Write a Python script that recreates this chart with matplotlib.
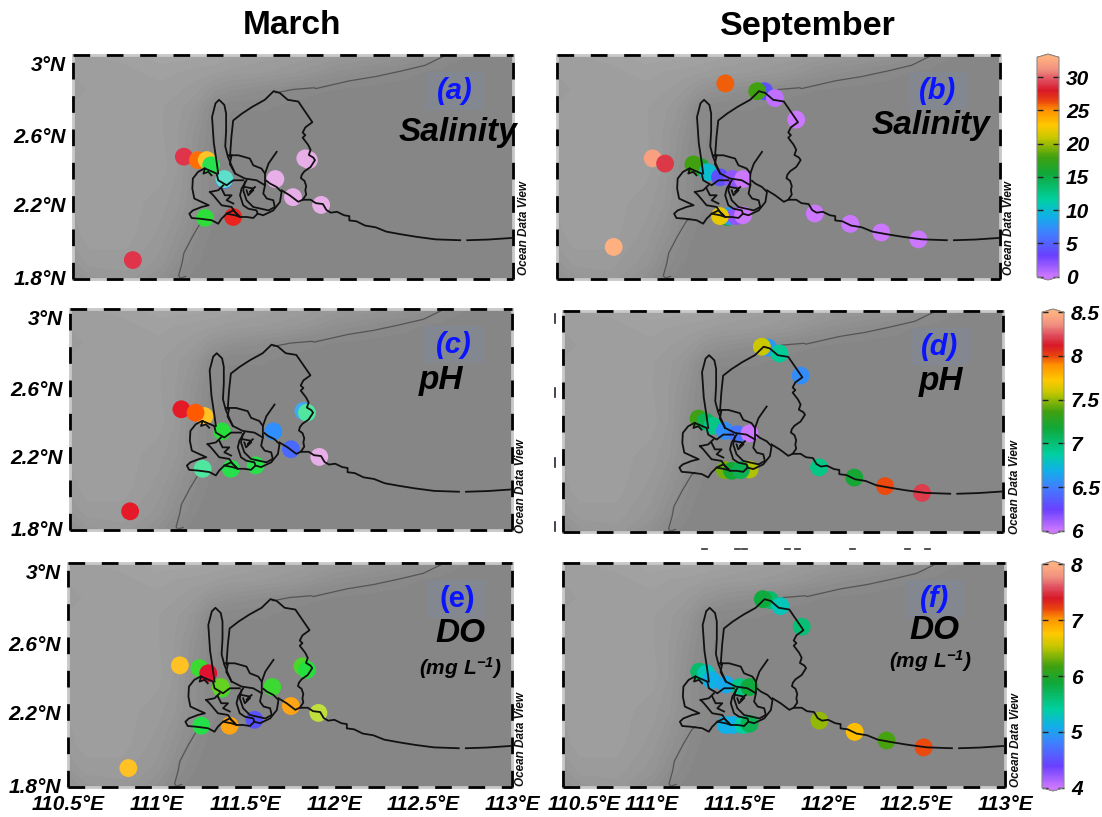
import matplotlib
matplotlib.use("Agg")
import matplotlib.pyplot as plt
import numpy as np
from matplotlib.cm import ScalarMappable
from matplotlib.colors import LinearSegmentedColormap, Normalize
from matplotlib.lines import Line2D

plt.rcParams['font.family'] = ['Liberation Sans', 'DejaVu Sans']
plt.rcParams['mathtext.default'] = 'regular'

W, H = 1102, 817

# stations (lon, lat, value)
lon_a = [111.36, 111.13, 111.21, 111.26, 111.285, 111.36, 111.65, 111.82, 111.84, 111.75, 111.91, 111.25, 111.41, 110.84]
lat_a = [2.325, 2.46, 2.44, 2.44, 2.41, 2.33, 2.33, 2.45, 2.44, 2.225, 2.18, 2.105, 2.11, 1.86]
sal_a = [5, 29, 26, 23, 15, 11, 0, 0, 0, 0, 0, 16, 27.5, 29]

lon_b = [111.45, 111.67, 111.63, 111.73, 111.85, 111.04, 111.11, 111.31, 111.27, 111.35, 111.42, 111.49, 111.55,
         111.46, 111.47, 111.51, 111.55, 111.42, 111.955, 112.155, 112.33, 112.54, 110.82]
lat_b = [2.885, 2.84, 2.84, 2.80, 2.675, 2.45, 2.42, 2.40, 2.415, 2.37, 2.34, 2.33, 2.33,
         2.11, 2.115, 2.115, 2.12, 2.115, 2.13, 2.07, 2.02, 1.98, 1.936]
sal_b = [26, 4, 18, 0.5, 0, 32, 29, 16, 18, 10, 4, 2, 0, 16, 8, 2, 0, 22, 0, 0, 0, 0, 33]

lon_c = [111.13, 111.26, 111.21, 111.36, 111.65, 111.82, 111.84, 111.75, 111.91, 111.25, 111.41, 111.55, 110.84]
lat_c = [2.46, 2.42, 2.44, 2.33, 2.33, 2.45, 2.44, 2.225, 2.18, 2.11, 2.11, 2.13, 1.86]
ph_c = [8.1, 7.75, 8.0, 7.2, 6.5, 6.6, 6.95, 6.35, 6.0, 6.95, 7.15, 7.15, 8.1]

lon_d = [111.665, 111.63, 111.73, 111.85, 111.27, 111.31, 111.35, 111.42, 111.49, 111.56,
         111.56, 111.42, 111.46, 111.51, 111.955, 112.155, 112.33, 112.54]
lat_d = [2.835, 2.84, 2.80, 2.67, 2.417, 2.40, 2.375, 2.345, 2.325, 2.33,
         2.118, 2.114, 2.11, 2.114, 2.13, 2.07, 2.02, 1.98]
ph_d = [6.6, 7.6, 6.9, 6.55, 7.35, 7.1, 6.95, 6.55, 6.45, 6.0, 7.55, 7.45, 7.2, 7.1, 6.95, 7.2, 8.0, 8.2]

lon_e = [111.13, 111.24, 111.29, 111.365, 111.36, 111.65, 111.82, 111.845, 111.755, 111.91, 111.25, 111.41, 111.55, 110.84]
lat_e = [2.456, 2.44, 2.41, 2.32, 2.33, 2.33, 2.45, 2.43, 2.22, 2.18, 2.106, 2.106, 2.14, 1.86]
do_e = [6.8, 6.0, 7.4, 6.0, 6.2, 6.0, 6.1, 5.9, 7.0, 6.5, 5.85, 7.0, 4.4, 6.8]

lon_f = [111.67, 111.63, 111.73, 111.85, 111.27, 111.31, 111.34, 111.42, 111.50, 111.555,
         111.42, 111.46, 111.52, 111.555, 111.95, 112.15, 112.33, 112.54]
lat_f = [2.835, 2.84, 2.80, 2.68, 2.42, 2.41, 2.37, 2.345, 2.33, 2.33,
         2.11, 2.11, 2.11, 2.117, 2.135, 2.07, 2.02, 1.98]
do_f = [5.65, 5.85, 5.3, 5.6, 5.65, 5.3, 5.1, 5.05, 5.5, 5.85, 5.1, 5.1, 5.4, 5.75, 6.4, 6.8, 6.2, 7.2]

# coast and rivers, black lines
coast_lines = [
    # island
    ([111.325, 111.316, 111.30, 111.29, 111.31, 111.33, 111.36, 111.37, 111.37, 111.365, 111.38, 111.40, 111.421],
     [2.362, 2.43, 2.54, 2.69, 2.77, 2.79, 2.76, 2.71, 2.61, 2.52, 2.46, 2.41, 2.362]),
    # north arc and the long coast to the east
    ([111.392, 111.40, 111.41, 111.46, 111.52, 111.59, 111.64, 111.675, 111.72, 111.78, 111.80, 111.82, 111.86,
      111.82, 111.805, 111.82, 111.805, 111.82, 111.835, 111.85, 111.84, 111.865, 111.875, 111.85, 111.815, 111.80,
      111.795, 111.815, 111.825, 111.82, 111.825, 111.805, 111.85, 111.88, 111.92, 111.94, 111.965, 112.0, 112.04,
      112.07, 112.07, 112.11, 112.16, 112.22, 112.28, 112.36, 112.45, 112.56, 112.70],
     [2.46, 2.575, 2.67, 2.71, 2.75, 2.79, 2.84, 2.83, 2.79, 2.78, 2.75, 2.72, 2.66,
      2.63, 2.60, 2.585, 2.57, 2.55, 2.53, 2.50, 2.47, 2.455, 2.44, 2.40, 2.375, 2.355,
      2.335, 2.32, 2.29, 2.265, 2.24, 2.21, 2.21, 2.19, 2.185, 2.15, 2.135, 2.14, 2.12,
      2.115, 2.09, 2.085, 2.06, 2.05, 2.025, 2.01, 1.995, 1.98, 1.975]),
    ([112.74, 112.86, 112.99], [1.975, 1.979, 1.988]),
    # delta outline
    ([111.246, 111.211, 111.181, 111.178, 111.189, 111.231, 111.271, 111.231, 111.181, 111.161, 111.174, 111.221, 111.288,
      111.325, 111.344, 111.373, 111.411, 111.449, 111.486, 111.524, 111.549, 111.543, 111.496, 111.467, 111.449, 111.458, 111.486],
     [2.391, 2.372, 2.333, 2.275, 2.217, 2.197, 2.178, 2.168, 2.148, 2.129, 2.104, 2.10, 2.091,
      2.071, 2.10, 2.129, 2.148, 2.11, 2.11, 2.104, 2.129, 2.148, 2.158, 2.178, 2.236, 2.275, 2.323]),
    # river up the middle
    ([111.401, 111.391, 111.421, 111.477, 111.543, 111.591, 111.591, 111.611, 111.657],
     [2.468, 2.418, 2.362, 2.333, 2.323, 2.294, 2.362, 2.42, 2.488]),
    ([111.382, 111.439, 111.505, 111.524, 111.571, 111.591], [2.468, 2.468, 2.449, 2.41, 2.391, 2.362]),
    # eastern loops
    ([111.591, 111.581, 111.601, 111.638, 111.647, 111.611, 111.524, 111.486, 111.467, 111.477],
     [2.294, 2.246, 2.217, 2.207, 2.168, 2.148, 2.168, 2.207, 2.265, 2.313]),
    ([111.60, 111.619, 111.657, 111.685, 111.676, 111.638, 111.581, 111.549],
     [2.32, 2.304, 2.284, 2.255, 2.197, 2.148, 2.12, 2.129]),
    ([111.685, 111.731, 111.78, 111.805], [2.265, 2.236, 2.198, 2.21]),
    # channels inside the delta
    ([111.25, 111.316, 111.325, 111.373, 111.411, 111.467], [2.391, 2.362, 2.323, 2.294, 2.323, 2.323]),
    ([111.278, 111.297, 111.344, 111.401, 111.42, 111.439], [2.255, 2.236, 2.178, 2.168, 2.139, 2.12]),
    ([111.278, 111.325, 111.354], [2.255, 2.265, 2.294]),
    ([111.344, 111.363, 111.401, 111.373, 111.411], [2.275, 2.236, 2.236, 2.207, 2.188]),
    ([111.477, 111.524, 111.505, 111.534], [2.284, 2.275, 2.255, 2.284]),
    ([111.486, 111.496, 111.524], [2.265, 2.236, 2.265]),
    ([111.25, 111.241, 111.269, 111.287], [2.391, 2.362, 2.372, 2.352]),
    ([111.373, 111.42, 111.449], [2.129, 2.12, 2.11]),
]

# thin grey coast, north and south of the delta
thin_lon_n = [111.65, 111.75, 111.87, 111.88, 112.07, 112.22, 112.36, 112.5, 112.62]
thin_lat_n = [2.83, 2.85, 2.86, 2.855, 2.90, 2.925, 2.956, 2.99, 3.05]
thin_lon_s = [111.25, 111.23, 111.18, 111.13, 111.12, 111.10, 111.11, 111.14]
thin_lat_s = [2.10, 2.085, 1.998, 1.90, 1.843, 1.77, 1.755, 1.765]

# bathymetry shading levels, read by eye (higher = lighter grey)
bath_lon = [110.5, 110.6, 110.8, 111.0, 111.1, 111.2, 111.3, 111.4, 111.6, 111.8, 112.0, 112.2, 112.4, 112.6, 112.8, 113.0]
bath_lat = [1.75, 1.85, 2.0, 2.2, 2.4, 2.6, 2.75, 2.85, 2.95, 3.05]
bath = [
    [1.5, 2.5, 3.0, 1.5, 0.5, 0, 0, 0, 0, 0, 0, 0, 0, 0, 0, 0],
    [2.5, 3.5, 3.5, 2.5, 1.2, 0.3, 0, 0, 0, 0, 0, 0, 0, 0, 0, 0],
    [3.5, 4.0, 4.0, 3.0, 2.0, 0.8, 0, 0, 0, 0, 0, 0, 0, 0, 0, 0],
    [3.8, 4.0, 4.0, 3.5, 2.8, 1.5, 0.5, 0, 0, 0, 0, 0, 0, 0, 0, 0],
    [4.0, 4.2, 4.2, 4.0, 3.2, 1.5, 0.3, 0, 0, 0, 0, 0, 0, 0, 0, 0],
    [4.2, 4.2, 4.2, 3.8, 3.2, 2.0, 0.5, 0, 0, 0, 0, 0, 0, 0, 0, 0],
    [3.8, 4.0, 4.0, 3.8, 3.4, 2.6, 0.8, 0.3, 0.3, 0, 0, 0, 0, 0, 0, 0],
    [3.5, 3.8, 4.0, 4.0, 3.8, 3.4, 2.4, 1.8, 1.2, 0.5, 0.2, 0, 0, 0, 0, 0],
    [3.8, 4.0, 4.0, 4.5, 4.2, 4.0, 3.8, 3.5, 3.2, 2.6, 1.6, 1.0, 0.4, 0, 0, 0],
    [3.8, 4.2, 4.5, 5.0, 5.0, 5.0, 4.8, 4.5, 4.0, 3.6, 3.0, 2.6, 2.0, 1.0, 0, 0],
]
bath_levels = [-1, 0.25, 0.75, 1.25, 1.75, 2.25, 2.75, 3.25, 3.75, 4.25, 4.75, 6]
bath_colors = ['#868686', '#898989', '#8c8c8c', '#8f8f8f', '#929292', '#959595',
               '#989898', '#9b9b9b', '#9e9e9e', '#a1a1a1', '#a4a4a4']

stops = [0, .095, .2, .275, .35, .47, .545, .635, .69, .76, .805, .85, .90, .945, 1]
sep_colors = ['#cc77ff', '#6a40ff', '#3f80ff', '#10b0e8', '#00d0a0', '#10a838', '#40a010', '#c8c800',
              '#ffc800', '#ff9000', '#e84010', '#d81828', '#e05060', '#f09080', '#ffb080']
mar_colors = ['#e8aee8', '#5a50ff', '#2f8fff', '#50c0f0', '#60e8c0', '#20e040', '#60d020', '#c8e040',
              '#ffc828', '#ffa010', '#ff5000', '#e01030', '#e05060', '#f09080', '#ffb080']
cm_sep = LinearSegmentedColormap.from_list('sep', list(zip(stops, sep_colors)))
cm_mar = LinearSegmentedColormap.from_list('mar', list(zip(stops, mar_colors)))

lat_ticks = [3.0, 2.585, 2.18, 1.76]
lat_labels = ['3°N', '2.6°N', '2.2°N', '1.8°N']
lon_labels = ['110.5°E', '111°E', '111.5°E', '112°E', '112.5°E', '113°E']
lon_ticks = [110.5, 111, 111.5, 112, 112.5, 113]
lon_ticks_f = [110.62, 111, 111.5, 112, 112.5, 113]

FONT = dict(fontweight='bold', fontstyle='italic')


def box(l, t, r, b):
    return [l / W, 1 - b / H, (r - l) / W, (b - t) / H]


def draw_panel(fig, pos, lon, lat, val, vmin, vmax, cmap, tag, name, name_y, odv, tag_lon=112.67, name_lon=112.65):
    ax = fig.add_axes(box(*pos))
    ax.contourf(bath_lon, bath_lat, np.array(bath), levels=bath_levels, colors=bath_colors, zorder=1)
    ax.plot(thin_lon_n, thin_lat_n, color='#555555', lw=0.9, zorder=2)
    ax.plot(thin_lon_s, thin_lat_s, color='#555555', lw=0.9, zorder=2)
    ax.scatter(lon, lat, c=val, cmap=cmap, vmin=vmin, vmax=vmax, s=165, linewidths=0, zorder=3)
    for xs, ys in coast_lines:
        ax.plot(xs, ys, color='#111111', lw=1.3, zorder=4)
    ax.set_xlim(110.5, 113)
    ax.set_ylim(1.75, 3.05)
    # grey frame with the black ODV dashes on it
    for s in ax.spines.values():
        s.set_color('#c8c8c8')
        s.set_linewidth(2.0)
        s.set_zorder(6)
    for xs, ys in [((0, 1), (0, 0)), ((0, 1), (1, 1)), ((0, 0), (0, 1)), ((1, 1), (0, 1))]:
        ax.plot(xs, ys, transform=ax.transAxes, color='black', lw=2.0, clip_on=False, zorder=7,
                dashes=(6, 6), dash_capstyle='butt')
    ax.set_xticks([])
    ax.set_yticks([])
    # tag patch behind (a), (b)...
    ax.fill_between([tag_lon - 0.165, tag_lon + 0.165], 2.73, 2.95, color='#808898', alpha=0.6, lw=0, zorder=5)
    style = 'normal' if tag == '(e)' else 'italic'
    ax.text(tag_lon, 2.84, tag, color='#0a14ff', fontsize=21, fontweight='bold', fontstyle=style,
            ha='center', va='center', zorder=8)
    ax.text(name_lon, name_y, name, color='black', fontsize=24, ha='center', va='center', zorder=8, **FONT)
    fig.text(odv[0] / W, 1 - odv[1] / H, 'Ocean Data View', rotation=90, fontsize=8.5, color='#111111',
             ha='center', va='center', **FONT)
    return ax


def draw_cbar(fig, pos, vmin, vmax, ticks, labels):
    cax = fig.add_axes(box(*pos))
    sm = ScalarMappable(norm=Normalize(vmin, vmax), cmap=cm_sep.with_extremes(under='#cc77ff', over='#ffb080'))
    cb = fig.colorbar(sm, cax=cax, extend='both', extendfrac=0.015, ticks=ticks)
    cb.outline.set_edgecolor('#888888')
    cb.outline.set_linewidth(0.8)
    cax.tick_params(axis='y', left=True, right=True, direction='in', length=4, width=1, color='#222222', pad=5)
    cax.set_yticklabels(labels, fontsize=15, **FONT)


fig = plt.figure(figsize=(W / 100, H / 100), dpi=100)

fig.text(292 / W, 1 - 26 / H, 'March', fontsize=24, fontweight='bold', ha='center', va='center')
fig.text(808 / W, 1 - 27 / H, 'September', fontsize=24.5, fontweight='bold', ha='center', va='center')

ax_a = draw_panel(fig, (73, 55, 513, 279), lon_a, lat_a, sal_a, 0, 33, cm_mar, '(a)', 'Salinity', 2.60, (524, 228),
                  name_lon=112.685)
ax_b = draw_panel(fig, (557, 55, 1000, 279), lon_b, lat_b, sal_b, 0, 33, cm_sep, '(b)', 'Salinity', 2.64, (1009, 228),
                  tag_lon=112.65, name_lon=112.61)
ax_c = draw_panel(fig, (70, 309, 512, 530), lon_c, lat_c, ph_c, 6, 8.5, cm_mar, '(c)', 'pH', 2.63, (521, 486), name_lon=112.6)
ax_d = draw_panel(fig, (563, 311, 1003, 532), lon_d, lat_d, ph_d, 6, 8.5, cm_sep, '(d)', 'pH', 2.635, (1015, 487),
                  tag_lon=112.64, name_lon=112.65)
ax_e = draw_panel(fig, (68, 563, 512, 787), lon_e, lat_e, do_e, 4, 8, cm_mar, '(e)', 'DO', 2.64, (521, 739),
                  tag_lon=112.69, name_lon=112.71)
ax_f = draw_panel(fig, (563, 563, 1005, 787), lon_f, lat_f, do_f, 4, 8, cm_sep, '(f)', 'DO', 2.66, (1016, 740),
                  tag_lon=112.6, name_lon=112.6)

ax_e.text(112.71, 2.44, r'(mg L$^{-1}$)', fontsize=15, ha='center', va='center', zorder=8, **FONT)
ax_f.text(112.58, 2.48, r'(mg L$^{-1}$)', fontsize=15, ha='center', va='center', zorder=8, **FONT)

for ax in (ax_a, ax_c, ax_e):
    ax.set_yticks(lat_ticks, lat_labels, fontsize=15, **FONT)
    ax.tick_params(axis='y', length=0, pad=5)
for ax, ticks in ((ax_e, lon_ticks), (ax_f, lon_ticks_f)):
    ax.set_xticks(ticks, lon_labels, fontsize=15, **FONT)
    ax.tick_params(axis='x', length=0, pad=6)

draw_cbar(fig, (1037, 54, 1059, 280), 0, 33, [0, 5, 10, 15, 20, 25, 30], ['0', '5', '10', '15', '20', '25', '30'])
draw_cbar(fig, (1042, 309, 1064, 534), 6, 8.5, [6, 6.5, 7, 7.5, 8, 8.5], ['6', '6.5', '7', '7.5', '8', '8.5'])
draw_cbar(fig, (1042, 561, 1064, 791), 4, 8, [4, 5, 6, 7, 8], ['4', '5', '6', '7', '8'])

# clipped label leftovers around panel d in the source figure
for y0 in (314, 388, 458, 522):
    fig.add_artist(Line2D([555 / W, 555 / W], [1 - y0 / H, 1 - (y0 + 9) / H], color='#223', lw=1.2))
for x0 in (702, 735, 742, 785, 795, 850, 905, 925):
    fig.add_artist(Line2D([x0 / W, (x0 + 5) / W], [1 - 549 / H, 1 - 549 / H], color='#333', lw=1.2))

fig.savefig('out.png', dpi=100)
